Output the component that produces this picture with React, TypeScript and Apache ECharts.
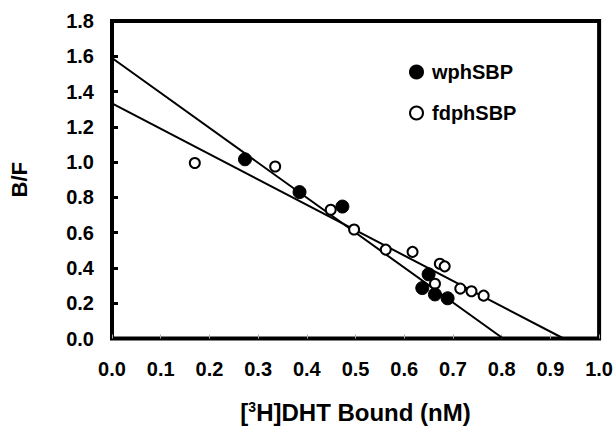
import React, { useEffect, useRef } from "react";
import * as echarts from "echarts";

const wphX = [0.273, 0.385, 0.473, 0.65, 0.637, 0.663, 0.689];
const wphY = [1.016, 0.83, 0.748, 0.364, 0.286, 0.25, 0.228];
const fdX = [0.17, 0.335, 0.449, 0.497, 0.562, 0.617, 0.673, 0.683, 0.663, 0.715, 0.738, 0.763];
const fdY = [0.995, 0.975, 0.73, 0.618, 0.504, 0.491, 0.424, 0.409, 0.31, 0.283, 0.268, 0.243];
const wphFitX = [0, 0.803];
const wphFitY = [1.59, 0];
const fdFitX = [0, 0.927];
const fdFitY = [1.333, 0];
const seriesNames = ["wphSBP", "fdphSBP"];

const FONT = "'Liberation Sans', Arial, Helvetica, sans-serif";

export default function App() {
  const ref = useRef<HTMLDivElement>(null);
  useEffect(() => {
    if (!ref.current) return;
    const chart = echarts.init(ref.current, null, { renderer: "svg" });
    const zip = (xs: number[], ys: number[]) => xs.map((x, i) => [x, ys[i]]);
    chart.setOption({
      animation: false,
      backgroundColor: "#fff",
      textStyle: { fontFamily: FONT },
      grid: {
        left: 100,
        right: 16,
        top: 21,
        bottom: 77,
        show: true,
        borderColor: "#000",
        borderWidth: 4,
        backgroundColor: "transparent",
      },
      legend: {
        data: seriesNames,
        orient: "vertical",
        left: 404,
        top: 57,
        itemWidth: 13,
        itemHeight: 13,
        itemGap: 21,
        icon: "circle",
        textStyle: {
          fontFamily: FONT,
          fontWeight: "bold",
          fontSize: 20,
          color: "#000",
          padding: [0, 0, 0, 4],
        },
      },
      xAxis: {
        type: "value",
        min: 0,
        max: 1,
        interval: 0.1,
        name: "{a|[}{s|3}{a|H]DHT Bound (nM)}",
        nameLocation: "middle",
        nameGap: 61,
        nameTextStyle: {
          rich: {
            a: { fontFamily: FONT, fontWeight: "bold", fontSize: 24, color: "#000" },
            s: {
              fontFamily: FONT,
              fontWeight: "bold",
              fontSize: 14,
              color: "#000",
              padding: [0, 0, 11, 0],
            },
          },
        },
        axisLine: { show: false },
        axisTick: {
          show: true,
          inside: true,
          length: 4,
          lineStyle: { color: "#aaa", width: 1 },
        },
        axisLabel: {
          margin: 20,
          fontFamily: FONT,
          fontWeight: "bold",
          fontSize: 20,
          color: "#000",
          formatter: (v: number) => v.toFixed(1),
        },
        splitLine: { show: false },
      },
      yAxis: {
        type: "value",
        min: 0,
        max: 1.8,
        interval: 0.2,
        name: "B/F",
        nameLocation: "middle",
        nameRotate: 90,
        nameGap: 82,
        nameTextStyle: {
          fontFamily: FONT,
          fontWeight: "bold",
          fontSize: 22,
          color: "#000",
        },
        axisLine: { show: false },
        axisTick: {
          show: true,
          inside: true,
          length: 6,
          lineStyle: { color: "#000", width: 3 },
        },
        axisLabel: {
          margin: 18,
          fontFamily: FONT,
          fontWeight: "bold",
          fontSize: 20,
          color: "#000",
          formatter: (v: number) => v.toFixed(1),
        },
        splitLine: { show: false },
      },
      series: [
        {
          name: "wphSBP fit",
          type: "line",
          data: zip(wphFitX, wphFitY),
          showSymbol: false,
          lineStyle: { color: "#000", width: 2 },
          z: 2,
        },
        {
          name: "fdphSBP fit",
          type: "line",
          data: zip(fdFitX, fdFitY),
          showSymbol: false,
          lineStyle: { color: "#000", width: 2 },
          z: 2,
        },
        {
          name: seriesNames[0],
          type: "scatter",
          data: zip(wphX, wphY),
          symbol: "circle",
          symbolSize: 13,
          itemStyle: { color: "#000", borderColor: "#000", borderWidth: 1, opacity: 1 },
          z: 4,
        },
        {
          name: seriesNames[1],
          type: "scatter",
          data: zip(fdX, fdY),
          symbol: "circle",
          symbolSize: 10,
          itemStyle: { color: "#fff", borderColor: "#000", borderWidth: 2, opacity: 1 },
          z: 3,
        },
      ],
    });
    return () => chart.dispose();
  }, []);
  return (
    <div
      ref={ref}
      style={{ position: "fixed", left: 0, top: 0, width: 616, height: 429, background: "#fff" }}
    />
  );
}
